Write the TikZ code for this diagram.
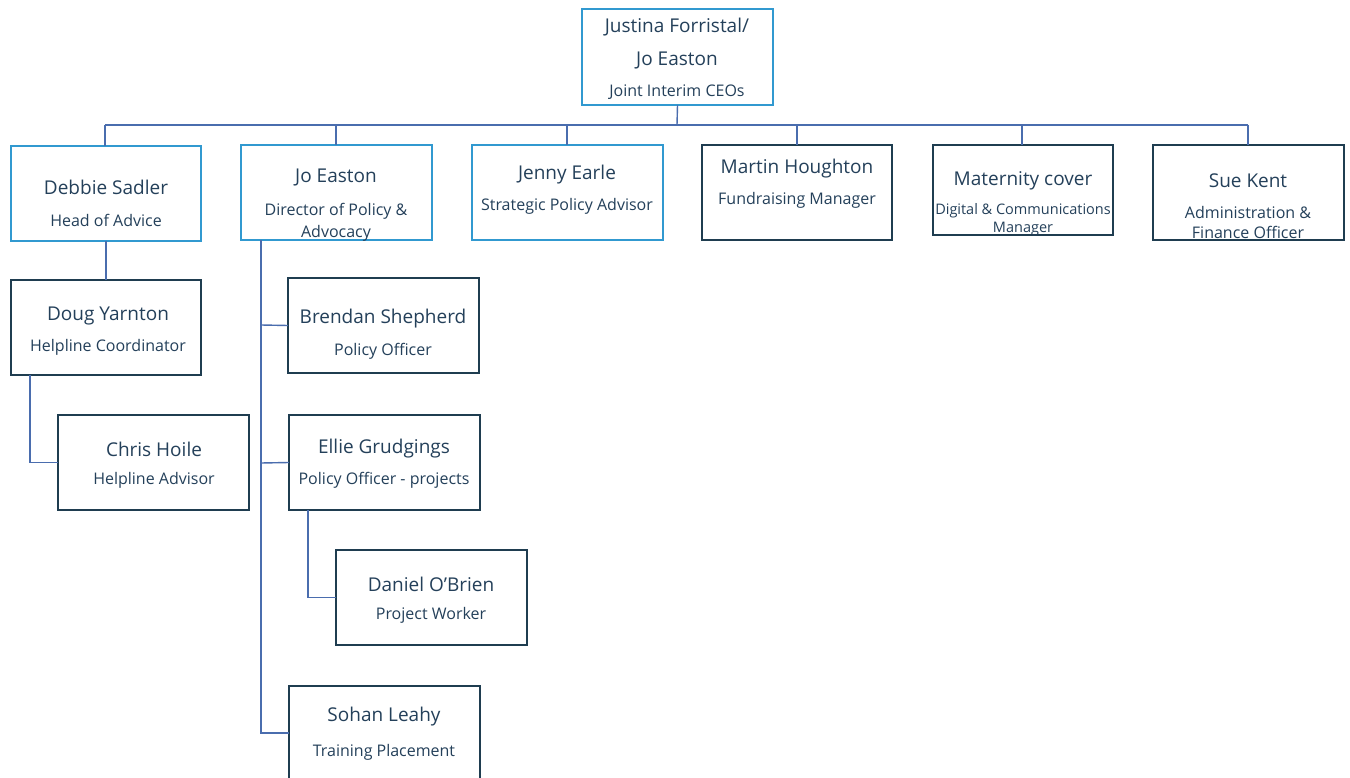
\documentclass[tikz,border=0pt]{standalone}
\usepackage{fontspec}
\setmainfont{Open Sans}
\definecolor{boxblue}{HTML}{3199D0}
\definecolor{boxdark}{HTML}{1F3D50}
\definecolor{txt}{HTML}{24405A}
\definecolor{conn}{HTML}{4A6DAE}
\tikzset{
  bluebox/.style={draw=boxblue, line width=2.4pt, inner sep=0pt, outer sep=0pt},
  darkbox/.style={draw=boxdark, line width=1.3pt, inner sep=0pt, outer sep=0pt},
  nm/.style={text=txt, inner sep=0pt, yshift=-2pt, font=\fontsize{19}{22}\selectfont},
  tl/.style={text=txt, inner sep=0pt, yshift=-2pt, font=\fontsize{16}{19}\selectfont},
  ts/.style={text=txt, inner sep=0pt, yshift=-2pt, font=\fontsize{14.5}{17}\selectfont},
  link/.style={draw=conn, line width=1.4pt},
}
\newcommand{\bx}[6]{%
  \pgfmathsetmacro{\bw}{#4-#2}\pgfmathsetmacro{\bh}{#5-#3}%
  \pgfmathsetmacro{\bcx}{(#2+#4)/2}\pgfmathsetmacro{\bcy}{(#3+#5)/2}%
  \node[#6, minimum width=\bw pt, minimum height=\bh pt] (#1) at (\bcx,\bcy) {};}
\begin{document}
\begin{tikzpicture}[x=1pt,y=-1pt]
\clip (0,0) rectangle (1350,778);
\fill[white] (0,0) rectangle (1350,778);
% boxes
\bx{ceo}{582}{9}{773}{105}{bluebox}
\bx{debbie}{11}{146}{201}{241}{bluebox}
\bx{jo}{241}{145}{432}{240}{bluebox}
\bx{jenny}{472}{145}{663}{240}{bluebox}
\bx{martin}{702}{145}{892}{240}{darkbox}
\bx{mat}{933}{145}{1113}{235}{darkbox}
\bx{sue}{1153}{145}{1344}{240}{darkbox}
\bx{doug}{11}{280}{201}{375}{darkbox}
\bx{chris}{58}{415}{249}{510}{darkbox}
\bx{brendan}{288}{278}{479}{373}{darkbox}
\bx{ellie}{289}{415}{480}{510}{darkbox}
\bx{daniel}{336}{550}{527}{645}{darkbox}
\bx{sohan}{289}{686}{480}{800}{darkbox}
% connectors
\coordinate (bus) at (677,125);
\draw[link] (ceo.south) -- (bus);
\draw[link] (105,125) -- (1248,125);
\foreach \n/\x in {debbie/105,jo/336,jenny/567,martin/797,mat/1022,sue/1248}
  \draw[link] (\x,125) -- (\n.north -| \x,0);
\draw[link] (debbie.south) -- (doug.north);
\draw[link] (doug.south -| 30,0) |- (chris.west);
\draw[link] (jo.south -| 261,0) -- (261,733) -- (sohan.west |- 0,733);
\draw[link] (261,325) -- (brendan.west);
\draw[link] (261,463) -- (ellie.west);
\draw[link] (ellie.south -| 308,0) |- (daniel.west);
% texts
\node[nm] (t1) at (677,25) {Justina Forristal/};
\node[nm] (t2) at (677,59) {Jo Easton};
\node[tl] (t3) at (677,90) {Joint Interim CEOs};
\node[nm] at (106,185) {Debbie Sadler};
\node[tl] at (106,218) {Head of Advice};
\node[nm] at (336,176) {Jo Easton};
\node[tl] at (336,209) {Director of Policy \&};
\node[tl] at (336,231) {Advocacy};
\node[nm] at (567,173) {Jenny Earle};
\node[tl] at (567,204) {Strategic Policy Advisor};
\node[nm] at (797,167) {Martin Houghton};
\node[tl] at (797,198) {Fundraising Manager};
\node[nm] at (1023,179) {Maternity cover};
\node[ts] at (1023,209) {Digital \& Communications};
\node[ts] at (1023,227) {Manager};
\node[nm] at (1248,179) {Sue Kent};
\node[tl] at (1248,211) {Administration \&};
\node[tl] at (1248,230) {Finance Officer};
\node[nm] at (108,314) {Doug Yarnton};
\node[tl] at (108,345) {Helpline Coordinator};
\node[nm] at (154,447) {Chris Hoile};
\node[tl] at (154,478) {Helpline Advisor};
\node[nm] at (383,317) {Brendan Shepherd};
\node[tl] at (383,349) {Policy Officer};
\node[nm] at (384,447) {Ellie Grudgings};
\node[tl] at (384,478) {Policy Officer - projects};
\node[nm] at (431,582) {Daniel O’Brien};
\node[tl] at (431,613) {Project Worker};
\node[nm] at (384,715) {Sohan Leahy};
\node[tl] at (384,750) {Training Placement};
\end{tikzpicture}
\end{document}
